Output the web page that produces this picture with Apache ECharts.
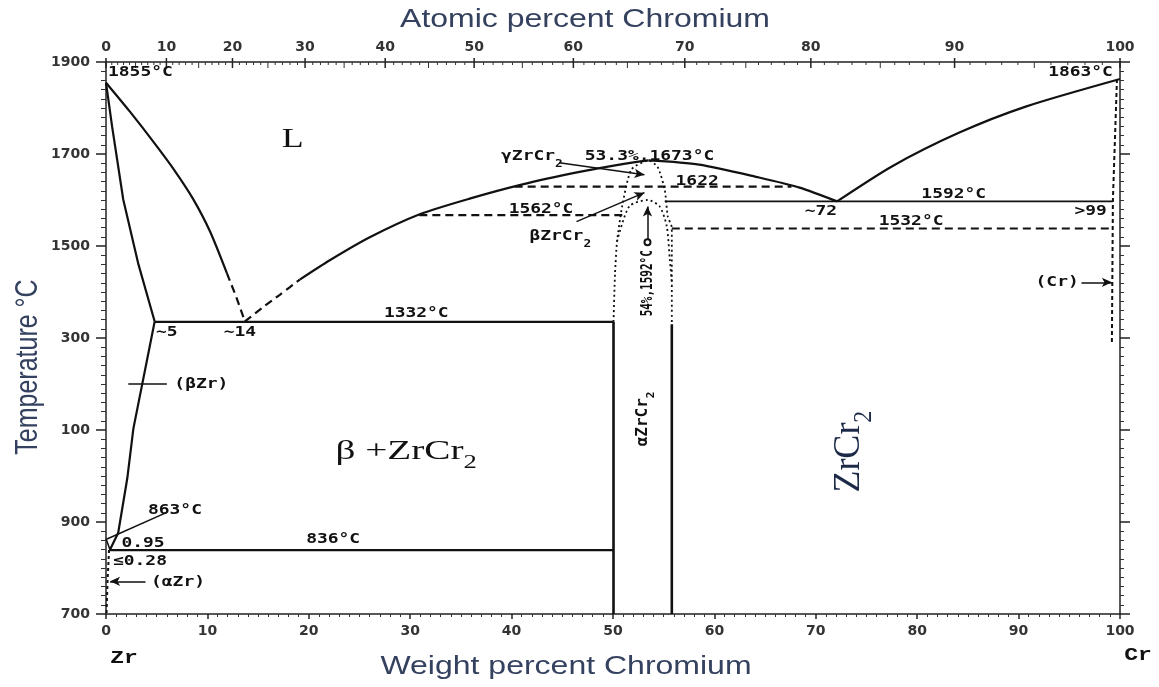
<!DOCTYPE html>
<html><head><meta charset="utf-8">
<script src="https://cdn.jsdelivr.net/npm/echarts@6/dist/echarts.min.js"></script>
<style>html,body{margin:0;padding:0;background:#fff}#c{width:1159px;height:687px}</style>
</head><body><div id="c"></div>
<script>
// ---------- axis ticks ----------
const wtTicks = [0,10,20,30,40,50,60,70,80,90,100];
const atTicks = [0,10,20,30,40,50,60,70,80,90,100];
const yTickValues = [700,900,1100,1300,1500,1700,1900];
const yTickLabels = ['700','900','100','300','1500','1700','1900'];
const M_CR = 51.996, M_ZR = 91.224; // atomic masses for at% -> wt% axis

// ---------- phase boundaries (weight % Cr, °C) ----------
const liqZrSolid     = [[0,1855],[2.36,1792],[4.83,1722],[6.8,1663],[8.57,1603],[10.25,1532],[11.92,1441]];
const liqZrDash      = [[11.92,1441],[12.8,1392],[13.7,1336]];
const liqLeftDash    = [[13.7,1336],[15.37,1365],[17.14,1394],[19.11,1427]];
const liqLeftSolid   = [[19.11,1427],[22.07,1469],[26.01,1519],[30.94,1569],[35.86,1603],[41.08,1634],[46.7,1661],[50.64,1677],[53.5,1686]];
const liqRight       = [[53.5,1686],[58.5,1677],[64.4,1649],[68.4,1627],[72.1,1597]];
const liqCr          = [[72.1,1597],[77.5,1673],[84.1,1746],[90.7,1803],[100,1863]];
const solidusBZr     = [[0,1855],[0.6,1760],[1.7,1601],[3.2,1460],[4.8,1336]];
const solvusBZr      = [[4.8,1336],[2.7,1103],[2.1,995],[1.2,876],[0.4,840]];
const eutectic1332   = [[4.8,1335],[50.05,1335]];
const eutectoid836   = [[0.4,839],[50.05,839]];
const line1622       = [[40.3,1629],[67.6,1629]];
const line1562       = [[30.9,1567],[51.0,1567]];
const line1592       = [[55.1,1597],[99.3,1597]];
const line1532       = [[55.8,1538],[99.3,1538]];
const zrcr2Left      = [[50.05,700],[50.05,1335]];
const zrcr2Right     = [[55.8,700],[55.8,1330]];
const gammaOuter     = [[50.05,1335],[50.2,1440],[50.4,1510],[50.9,1586],[51.8,1666],[53.5,1686],[54.4,1672],[55.1,1623],[55.4,1564],[55.8,1540],[55.8,1330]];
const alphaDome      = [[50.4,1510],[51.6,1586],[53.4,1600],[54.6,1586],[55.3,1543],[55.6,1471],[55.8,1420]];
const crSolvus       = [[99.7,1863],[99.3,1600],[99.2,1290]];
const alphaBetaZr    = [[0,864],[0.4,839]];
const alphaZrSolvus  = [[0.3,839],[0.15,770],[0.05,700]];

// ---------- leader lines / arrows ----------
const leaders = [
  {from:[44.7,1681], to:[53.1,1655], end:'arrow'},
  {from:[46.4,1553], to:[53.1,1616], end:'arrow'},
  {from:[53.4,1508], to:[53.4,1586], start:'emptyCircle', end:'arrow'},
  {from:[2.2,1200],  to:[6.0,1200]},
  {from:[3.9,771],   to:[0.4,771], end:'arrow'},
  {from:[96.2,1421], to:[99.2,1421], end:'arrow'},
  {from:[0.1,863],   to:[6.0,921]}
];

// ---------- annotation texts (position in data coords) ----------
const notes = [
  [0.2,1878,'1855°C','mL'],
  [99.3,1878,'1863°C','mR'],
  [18.4,1731,'L','big'],
  [42.0,1694,'γZrCr{s|2}','m'],
  [53.6,1694,'53.3%,1673°C','m'],
  [58.3,1640,'1622','m'],
  [42.9,1579,'1562°C','m'],
  [44.8,1521,'βZrCr{s|2}','m'],
  [83.6,1612,'1592°C','m'],
  [70.5,1575,'~72','m'],
  [97.1,1575,'>99','m'],
  [79.4,1553,'1532°C','m'],
  [93.8,1421,'(Cr)','m'],
  [53.4,1419,'54%,1592°C','rot'],
  [30.6,1354,'1332°C','m'],
  [6.0,1313,'~5','m'],
  [13.2,1313,'~14','m'],
  [9.4,1200,'(βZr)','m'],
  [52.9,1124,'αZrCr{s|2}','rotL'],
  [29.6,1053,'β +ZrCr{b|2}','bigS'],
  [73.3,1053,'ZrCr{b|2}','bigRot'],
  [6.8,925,'863°C','m'],
  [3.65,854,'0.95','m'],
  [22.4,862,'836°C','m'],
  [3.35,815,'≤0.28','m'],
  [7.1,769,'(αZr)','m']
];

const atToWt = at => 100*at*M_CR/(at*M_CR + (100-at)*M_ZR);
const atMinor = [];
for (let a = 0; a <= 100; a++) if (a % 10) atMinor.push(a);

const chart = echarts.init(document.getElementById('c'));
const INK = '#111';
function ln(name, data, type, extra){
  const dash = type === 'dash' ? [8,5] : type === 'dot' ? [2,3] : 'solid';
  return Object.assign({
    name, type:'line', data, symbol:'none', showSymbol:false, silent:true,
    xAxisIndex:0, yAxisIndex:0, z:3,
    lineStyle:{color:INK, width: type === 'dot' ? 1.8 : 2.2, type:dash}
  }, extra || {});
}
const SM = {smooth:0.25};
const series = [
  ln('liqZrSolid', liqZrSolid, 'solid', SM),
  ln('liqZrDash', liqZrDash, 'dash'),
  ln('liqLeftDash', liqLeftDash, 'dash', SM),
  ln('liqLeftSolid', liqLeftSolid, 'solid', SM),
  ln('liqRight', liqRight, 'solid', SM),
  ln('liqCr', liqCr, 'solid', SM),
  ln('solidusBZr', solidusBZr, 'solid'),
  ln('solvusBZr', solvusBZr, 'solid'),
  ln('eutectic1332', eutectic1332, 'solid'),
  ln('eutectoid836', eutectoid836, 'solid'),
  ln('line1622', line1622, 'dash'),
  ln('line1562', line1562, 'dash'),
  ln('line1592', line1592, 'solid', {lineStyle:{color:INK,width:1.8}}),
  ln('line1532', line1532, 'dash'),
  ln('zrcr2Left', zrcr2Left, 'solid', {lineStyle:{color:INK,width:2.6}}),
  ln('zrcr2Right', zrcr2Right, 'solid', {lineStyle:{color:INK,width:2.6}}),
  ln('gammaOuter', gammaOuter, 'dot', {smooth:0.2}),
  ln('alphaDome', alphaDome, 'dot', {smooth:0.25}),
  ln('crSolvus', crSolvus, 'dash', {lineStyle:{color:INK,width:2,type:[4,3]}}),
  ln('alphaBetaZr', alphaBetaZr, 'solid', {lineStyle:{color:INK,width:1.5}}),
  ln('alphaZrSolvus', alphaZrSolvus, 'dash', {lineStyle:{color:INK,width:2,type:[3,3]}}),
  {
    name:'leaders', type:'line', data:[], symbol:'none', silent:true,
    markLine:{
      silent:true, animation:false, symbol:['none','none'], symbolSize:[7,10],
      label:{show:false}, lineStyle:{color:INK, width:1.5, type:'solid'},
      data: leaders.map(l => [
        {coord:l.from, symbol:l.start || 'none', symbolSize: l.start ? 6 : 8},
        {coord:l.to, symbol:l.end || 'none', symbolSize:[7,10]}
      ])
    }
  },
  {
    name:'atomicAxis', type:'custom', xAxisIndex:0, yAxisIndex:0, clip:false, silent:true, z:6,
    data: atTicks.map(a => [a,1]).concat(atMinor.map(a => [a,0])),
    renderItem(params, api){
      const at = api.value(0), major = api.value(1);
      const p = api.coord([atToWt(at), 1900]);
      if (major) {
        return {type:'group', children:[
          {type:'line', shape:{x1:p[0],y1:p[1]-4,x2:p[0],y2:p[1]+6}, style:{stroke:'#222',lineWidth:1.5}},
          {type:'text', x:p[0], y:p[1]-15, style:{text:String(at), font:'bold 14px "DejaVu Sans"', fill:'#333', align:'center', verticalAlign:'middle'}}
        ]};
      }
      return {type:'line', shape:{x1:p[0],y1:p[1],x2:p[0],y2:p[1]+(at%5===0?6:3)}, style:{stroke:'#333',lineWidth:1}};
    }
  }
];

const tickFont = {fontFamily:'DejaVu Sans', fontWeight:'bold', fontSize:14, color:'#333'};
chart.setOption({
  animation:false,
  backgroundColor:'#fff',
  grid:{left:106, right:39, top:62, bottom:73},
  xAxis:[
    {type:'value', position:'bottom', min:0, max:100, interval:10,
     axisLine:{show:true, lineStyle:{color:'#222', width:1.5}},
     axisTick:{show:true, length:5, lineStyle:{color:'#222', width:1.5}},
     minorTick:{show:true, splitNumber:10, length:3, lineStyle:{color:'#333'}},
     splitLine:{show:false},
     axisLabel:Object.assign({margin:10, formatter: v => wtTicks.includes(v) ? String(v) : ''}, tickFont)},
    {type:'value', position:'top', min:0, max:100,
     axisLine:{show:true, onZero:false, lineStyle:{color:'#222', width:1.5}},
     axisTick:{show:false}, axisLabel:{show:false}, splitLine:{show:false}}
  ],
  yAxis:[
    {type:'value', position:'left', min:700, max:1900, interval:200,
     axisLine:{show:true, lineStyle:{color:'#222', width:1.5}},
     axisTick:{show:true, length:10, lineStyle:{color:'#222', width:1.5}},
     minorTick:{show:true, splitNumber:10, length:5, lineStyle:{color:'#333'}},
     splitLine:{show:false},
     axisLabel:Object.assign({margin:16, formatter: v => { const i = yTickValues.indexOf(v); return i >= 0 ? yTickLabels[i] : ''; }}, tickFont)},
    {type:'value', position:'right', min:700, max:1900, interval:200,
     axisLine:{show:true, onZero:false, lineStyle:{color:'#222', width:1.5}},
     axisTick:{show:true, length:10, lineStyle:{color:'#222', width:1.5}},
     minorTick:{show:true, splitNumber:10, length:4, lineStyle:{color:'#333'}},
     splitLine:{show:false}, axisLabel:{show:false}}
  ],
  series
});

// ---------- text annotations, positioned through the chart's own scales ----------
const SX = 1.28;
const monoFont = 'bold 14px "DejaVu Sans Mono"';
const styles = {
  m:     {font:monoFont, align:'center', sx:SX, rich:{s:{font:'bold 10px "DejaVu Sans Mono"', verticalAlign:'bottom', lineHeight:10, padding:[0,0,-6,0]}}},
  mL:    {font:monoFont, align:'left', sx:SX},
  mR:    {font:monoFont, align:'right', sx:SX},
  rot:   {font:'bold 11px "DejaVu Sans Mono"', align:'center', rotate:true, sy:1.5},
  rotL:  {font:'bold 16px "DejaVu Sans Mono"', align:'center', rotate:true, sy:1.0, rich:{s:{font:'bold 11px "DejaVu Sans Mono"', verticalAlign:'bottom', lineHeight:10, padding:[0,0,-6,0]}}},
  big:   {font:'28px "Liberation Serif"', align:'center', sx:SX},
  bigS:  {font:'28px "Liberation Serif"', align:'center', sx:1.4, rich:{b:{font:'19px "Liberation Serif"', verticalAlign:'bottom', lineHeight:18, padding:[0,0,-7,0]}}},
  bigRot:{font:'36px "Liberation Serif"', align:'center', rotate:true, sy:1.05, fill:'#1c2a48', rich:{b:{font:'24px "Liberation Serif"', verticalAlign:'bottom', lineHeight:20, padding:[0,0,-8,0], color:'#1c2a48'}}}
};
const elements = notes.map(([x, t, text, kind]) => {
  const st = styles[kind];
  const p = chart.convertToPixel({seriesIndex:0}, [x, t]);
  const el = {type:'text', x:p[0], y:p[1], z:10, silent:true,
    style:{text, font:st.font, fill:st.fill || INK, align:st.align, verticalAlign:'middle', rich:st.rich}};
  if (st.rotate) { el.rotation = Math.PI/2; el.scaleY = st.sy; } else { el.scaleX = st.sx; }
  return el;
});
const titleFont = '25px "Liberation Sans"';
const titleColor = '#34415f';
elements.push(
  {type:'text', x:585, y:20, scaleX:SX, style:{text:'Atomic percent Chromium', font:titleFont, fill:titleColor, align:'center', verticalAlign:'middle'}},
  {type:'text', x:566, y:667, scaleX:SX, style:{text:'Weight percent Chromium', font:titleFont, fill:titleColor, align:'center', verticalAlign:'middle'}},
  {type:'text', x:28, y:367, rotation:Math.PI/2, scaleY:SX, style:{text:'Temperature °C', font:titleFont, fill:titleColor, align:'center', verticalAlign:'middle'}},
  {type:'text', x:124, y:658, scaleX:SX, style:{text:'Zr', font:'bold 18px "Liberation Mono"', fill:INK, align:'center', verticalAlign:'middle'}},
  {type:'text', x:1138, y:655, scaleX:SX, style:{text:'Cr', font:'bold 18px "Liberation Mono"', fill:INK, align:'center', verticalAlign:'middle'}}
);
chart.setOption({graphic:{elements}});
</script>
</body></html>
